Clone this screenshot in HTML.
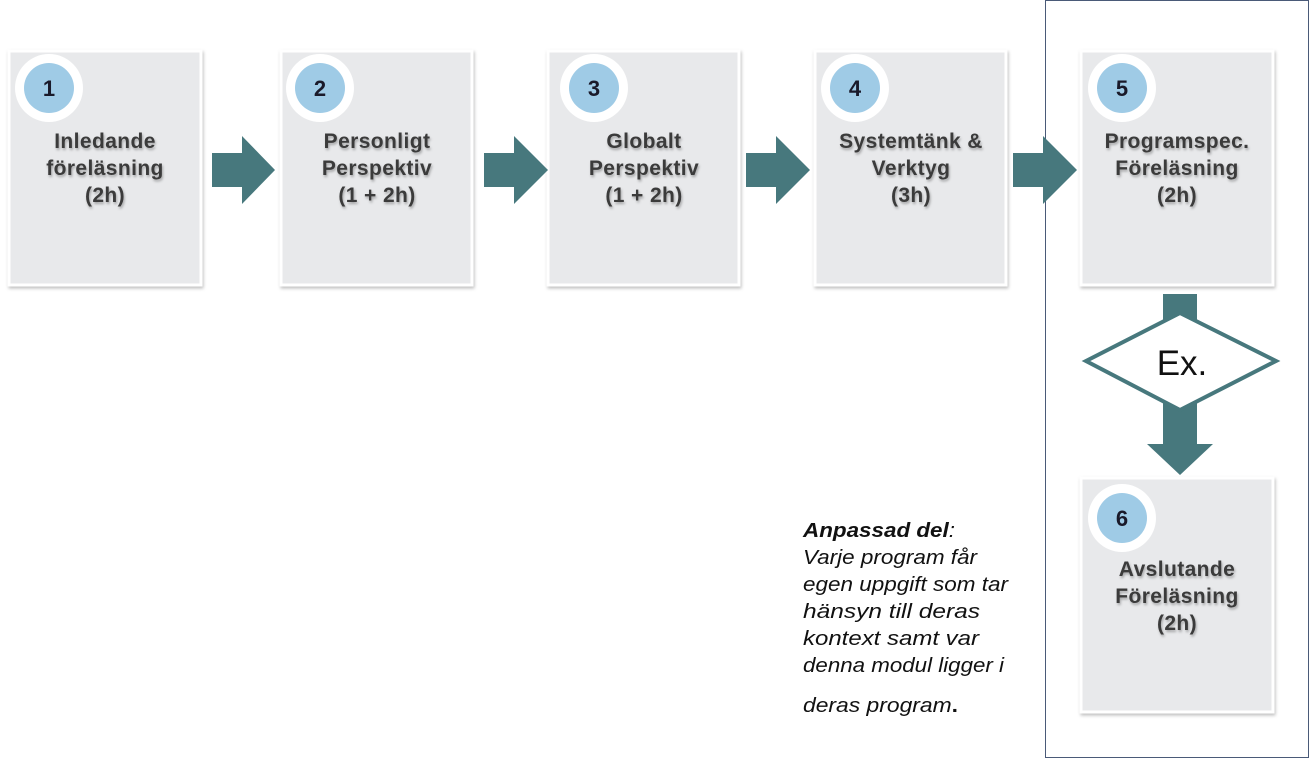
<!DOCTYPE html>
<html><head><meta charset="utf-8"><style>
body{margin:0;background:#fff;width:1313px;height:760px;overflow:hidden}
svg text{font-family:"Liberation Sans",sans-serif}
.t{font-weight:bold;font-size:21px;letter-spacing:0.4px;fill:#3a3a3a;text-anchor:middle}
.n{font-weight:bold;font-size:22px;fill:#1a1a2a;text-anchor:middle}
.i{font-style:italic;font-size:20px;fill:#111}
</style></head><body>
<svg width="1313" height="760" xmlns="http://www.w3.org/2000/svg">
<defs>
<filter id="sh" x="-10%" y="-10%" width="120%" height="120%"><feDropShadow dx="1" dy="2" stdDeviation="1.5" flood-color="#000" flood-opacity="0.25"/></filter>
<filter id="ts"><feDropShadow dx="1" dy="2" stdDeviation="1.2" flood-color="#000" flood-opacity="0.3"/></filter>
</defs>
<rect x="1045.5" y="0.5" width="263" height="757" fill="none" stroke="#4a5a78" stroke-width="1"/>
<g filter="url(#sh)" fill="#e8e9eb" stroke="#fff" stroke-width="3">
<rect x="9" y="51" width="192" height="234"/>
<rect x="281" y="51" width="191" height="234"/>
<rect x="548" y="51" width="191" height="234"/>
<rect x="815" y="51" width="191" height="234"/>
<rect x="1081" y="51" width="192" height="234"/>
<rect x="1081" y="478" width="192" height="234"/>
</g>
<g fill="#fff"><circle cx="49" cy="88" r="34"/><circle cx="320" cy="88" r="34"/><circle cx="594" cy="88" r="34"/><circle cx="855" cy="88" r="34"/><circle cx="1122" cy="88" r="34"/><circle cx="1122" cy="518" r="34"/></g>
<g fill="#9fcbe6"><circle cx="49" cy="88" r="25"/><circle cx="320" cy="88" r="25"/><circle cx="594" cy="88" r="25"/><circle cx="855" cy="88" r="25"/><circle cx="1122" cy="88" r="25"/><circle cx="1122" cy="518" r="25"/></g>
<g><text x="49" y="96" class="n">1</text><text x="320" y="96" class="n">2</text><text x="594" y="96" class="n">3</text><text x="855" y="96" class="n">4</text><text x="1122" y="96" class="n">5</text><text x="1122" y="526" class="n">6</text></g>
<g filter="url(#ts)">
<text class="t" x="105" y="148">Inledande</text><text class="t" x="105" y="175">föreläsning</text><text class="t" x="105" y="202">(2h)</text>
<text class="t" x="377" y="148">Personligt</text><text class="t" x="377" y="175">Perspektiv</text><text class="t" x="377" y="202">(1 + 2h)</text>
<text class="t" x="644" y="148">Globalt</text><text class="t" x="644" y="175">Perspektiv</text><text class="t" x="644" y="202">(1 + 2h)</text>
<text class="t" x="911" y="148">Systemtänk &amp;</text><text class="t" x="911" y="175">Verktyg</text><text class="t" x="911" y="202">(3h)</text>
<text class="t" x="1177" y="148">Programspec.</text><text class="t" x="1177" y="175">Föreläsning</text><text class="t" x="1177" y="202">(2h)</text>
<text class="t" x="1177" y="576">Avslutande</text><text class="t" x="1177" y="603">Föreläsning</text><text class="t" x="1177" y="630">(2h)</text>
</g>
<g fill="#47787d">
<polygon points="212,153 242,153 242,136 275,170 242,204 242,187 212,187"/>
<polygon points="484,153 514,153 514,136 548,170 514,204 514,187 484,187"/>
<polygon points="746,153 776,153 776,136 810,170 776,204 776,187 746,187"/>
<polygon points="1013,153 1043,153 1043,136 1077,170 1043,204 1043,187 1013,187"/>
<polygon points="1163,294 1197,294 1197,444 1213,444 1180,475 1147,444 1163,444"/>
</g>
<polygon points="1180,313 1276,361 1180,410 1086,361" fill="#fff" stroke="#47787d" stroke-width="4"/>
<text x="1182" y="375" font-size="35" text-anchor="middle" fill="#111">Ex.</text>
<text class="i" x="803" y="537" textLength="152" lengthAdjust="spacingAndGlyphs"><tspan font-weight="bold">Anpassad del</tspan>:</text>
<text class="i" x="803" y="564" textLength="174" lengthAdjust="spacingAndGlyphs">Varje program får</text>
<text class="i" x="803" y="591" textLength="205" lengthAdjust="spacingAndGlyphs">egen uppgift som tar</text>
<text class="i" x="803" y="618" textLength="177" lengthAdjust="spacingAndGlyphs">hänsyn till deras</text>
<text class="i" x="803" y="645" textLength="176" lengthAdjust="spacingAndGlyphs">kontext samt var</text>
<text class="i" x="803" y="672" textLength="201" lengthAdjust="spacingAndGlyphs">denna modul ligger i</text>
<text class="i" x="803" y="712" textLength="155" lengthAdjust="spacingAndGlyphs">deras program<tspan font-style="normal" font-weight="bold">.</tspan></text>
</svg>
</body></html>
